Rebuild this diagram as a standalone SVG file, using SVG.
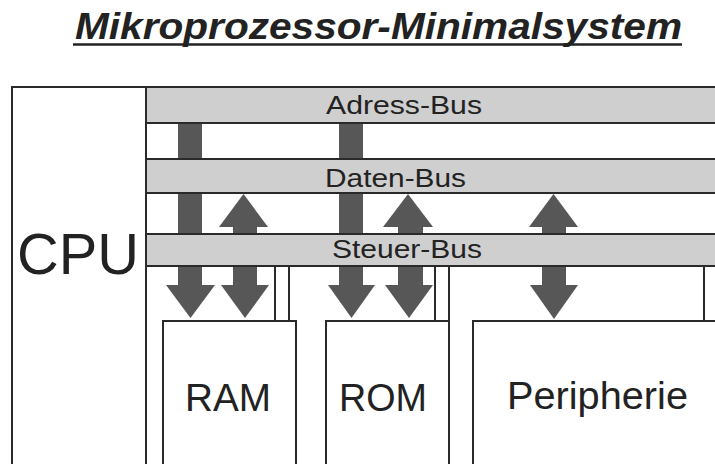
<svg xmlns="http://www.w3.org/2000/svg" width="715" height="464" viewBox="0 0 715 464">
<defs>
<style>
.ln{stroke:#2a2a2a;stroke-width:2;fill:none}
.box{fill:#ffffff;stroke:#2a2a2a;stroke-width:2}
.bus{fill:#cfcfcf;stroke:#2a2a2a;stroke-width:2}
.arr{fill:#575757;stroke:none}
.t{font-family:"Liberation Sans",Arial,Helvetica,sans-serif;fill:#222222}
.bl{font-size:26px}
.bx{font-size:39px}
</style>
</defs>
<rect width="715" height="464" fill="#ffffff"/>
<g id="title">
<text class="t" x="75" y="39" font-size="37" font-weight="bold" font-style="italic" textLength="607" lengthAdjust="spacingAndGlyphs">Mikroprozessor-Minimalsystem</text>
<line x1="73" y1="44.5" x2="682" y2="44.5" stroke="#222222" stroke-width="2.5"/>
</g>
<g id="cpu">
<path class="ln" d="M12,464 V87 H146 V464"/>
<text class="t" x="17" y="274" font-size="58" textLength="122" lengthAdjust="spacingAndGlyphs">CPU</text>
</g>
<g id="ram">
<path class="box" d="M163,466 V321 H296 V466"/>
<text class="t bx" x="185" y="411" textLength="86" lengthAdjust="spacingAndGlyphs">RAM</text>
</g>
<g id="rom">
<path class="box" d="M326,466 V321 H449 V266"/>
<line class="ln" x1="449" y1="321" x2="449" y2="466"/>
<text class="t bx" x="339" y="411" textLength="88" lengthAdjust="spacingAndGlyphs">ROM</text>
</g>
<g id="peripherie">
<path class="box" d="M473,466 V321 H717"/>
<text class="t bx" x="507" y="409" textLength="181" lengthAdjust="spacingAndGlyphs">Peripherie</text>
</g>
<g id="connectors">
<rect class="arr" x="178" y="122" width="24" height="164"/>
<polygon class="arr" points="166,285 215,285 190.5,318"/>
<polygon class="arr" points="219,227 268,227 243.5,194"/>
<rect class="arr" x="233" y="226" width="24" height="60"/>
<polygon class="arr" points="221,285 269,285 245,318"/>
<line class="ln" x1="275" y1="266" x2="275" y2="320"/>
<line class="ln" x1="289" y1="266" x2="289" y2="320"/>
<rect class="arr" x="339" y="122" width="24" height="164"/>
<polygon class="arr" points="328,285 375,285 351.5,318"/>
<polygon class="arr" points="383,227 433,227 408,194"/>
<rect class="arr" x="398" y="226" width="25" height="60"/>
<polygon class="arr" points="385,285 433,285 409,318"/>
<line class="ln" x1="435" y1="266" x2="435" y2="320"/>
<polygon class="arr" points="529,227 578,227 553.5,194"/>
<rect class="arr" x="542" y="226" width="24" height="60"/>
<polygon class="arr" points="530,285 578,285 554,319"/>
<line class="ln" x1="704" y1="266" x2="704" y2="320"/>
</g>
<g id="adress-bus">
<path class="bus" d="M146,87 H717 V123 H146 Z"/>
<text class="t bl" x="326" y="114" textLength="156" lengthAdjust="spacingAndGlyphs">Adress-Bus</text>
</g>
<g id="daten-bus">
<path class="bus" d="M146,159 H717 V193 H146 Z"/>
<text class="t bl" x="325" y="187" textLength="141" lengthAdjust="spacingAndGlyphs">Daten-Bus</text>
</g>
<g id="steuer-bus">
<path class="bus" d="M146,234 H717 V266 H146 Z"/>
<text class="t bl" x="332" y="258" textLength="150" lengthAdjust="spacingAndGlyphs">Steuer-Bus</text>
</g>
</svg>
